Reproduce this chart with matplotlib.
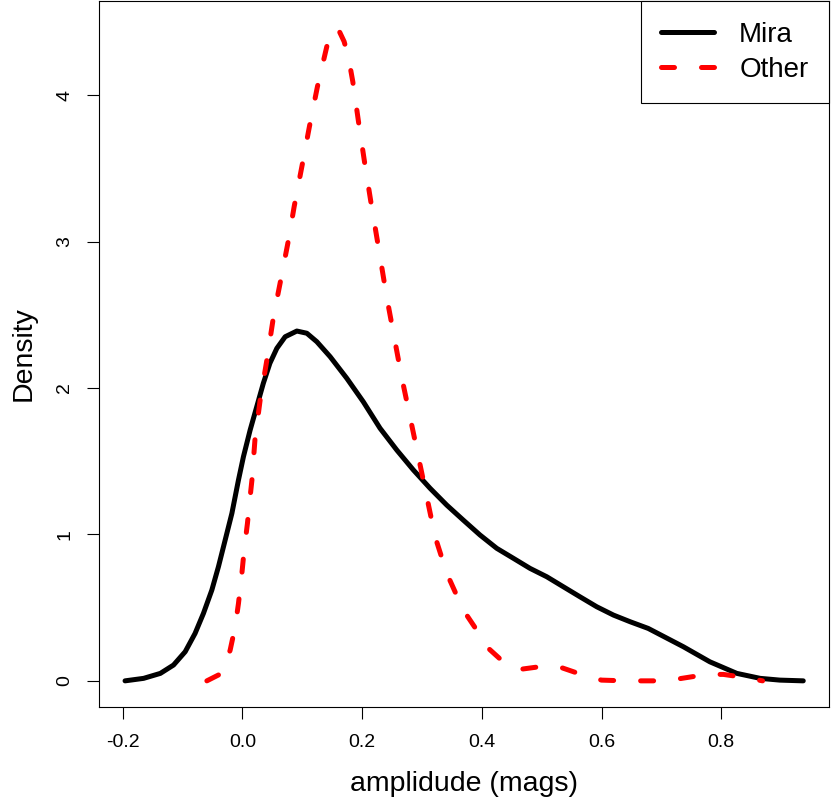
import matplotlib
matplotlib.use("Agg")
import matplotlib.pyplot as plt

plt.rcParams["font.family"] = ["Liberation Sans", "DejaVu Sans"]
plt.rcParams["axes.unicode_minus"] = False

# density curves
mira_x = [-0.196, -0.165, -0.137, -0.115, -0.0955, -0.079, -0.065, -0.051, -0.040,
          -0.0287, -0.0175, -0.0065, 0.0018, 0.013, 0.024, 0.035, 0.046, 0.0576,
          0.0715, 0.091, 0.1077, 0.1244, 0.1466, 0.1745, 0.202, 0.230, 0.258,
          0.2857, 0.3136, 0.3415, 0.369, 0.397, 0.425, 0.4527, 0.4806, 0.5085,
          0.536, 0.564, 0.592, 0.620, 0.6476, 0.678, 0.7367, 0.781, 0.826,
          0.865, 0.898, 0.937]
mira_y = [0.0, 0.017, 0.051, 0.108, 0.199, 0.324, 0.461, 0.620, 0.779,
          0.962, 1.144, 1.372, 1.531, 1.713, 1.872, 2.032, 2.169, 2.271,
          2.35, 2.389, 2.374, 2.316, 2.214, 2.066, 1.906, 1.725, 1.576,
          1.44, 1.315, 1.20, 1.098, 0.996, 0.905, 0.837, 0.768, 0.711,
          0.643, 0.574, 0.506, 0.449, 0.404, 0.358, 0.233, 0.13, 0.051,
          0.017, 0.005, 0.0]

other_x = [-0.0593, -0.040, -0.0316, -0.0204, -0.012, -0.0065, -0.0008, 0.003,
           0.0085, 0.013, 0.016, 0.021, 0.0297, 0.0409, 0.052, 0.063, 0.077,
           0.0865, 0.0994, 0.112, 0.1254, 0.141, 0.1495, 0.1595, 0.170, 0.177,
           0.1845, 0.194, 0.204, 0.2146, 0.230, 0.241, 0.2535, 0.266, 0.280,
           0.294, 0.308, 0.322, 0.3415, 0.369, 0.397, 0.411, 0.4417, 0.464,
           0.5085, 0.5336, 0.5725, 0.600, 0.639, 0.667, 0.709, 0.734, 0.776,
           0.8035, 0.8425, 0.869]
other_y = [0.0, 0.04, 0.074, 0.21, 0.37, 0.529, 0.734, 0.893,
           1.076, 1.258, 1.372, 1.645, 1.918, 2.19, 2.487, 2.715, 3.01,
           3.238, 3.512, 3.785, 4.058, 4.331, 4.434, 4.457, 4.366, 4.263,
           4.092, 3.819, 3.546, 3.273, 2.897, 2.624, 2.35, 2.077, 1.804,
           1.531, 1.258, 0.984, 0.734, 0.484, 0.313, 0.222, 0.108, 0.0785,
           0.103, 0.0895, 0.035, 0.005, 0.0, 0.0, 0.0, 0.017, 0.044,
           0.044, 0.021, 0.0]

x_ticks = [-0.2, 0.0, 0.2, 0.4, 0.6, 0.8]
x_labels = ["-0.2", "0.0", "0.2", "0.4", "0.6", "0.8"]
y_ticks = [0, 1, 2, 3, 4]
y_labels = ["0", "1", "2", "3", "4"]

fig = plt.figure(figsize=(8.31, 8.07), dpi=100)
ax = fig.add_axes([99 / 831, 1 - 707 / 807, 730 / 831, 706 / 807])

lw = 3.6
ax.plot(mira_x, mira_y, color="black", lw=lw, solid_capstyle="round",
        solid_joinstyle="round", label="Mira")
red, = ax.plot(other_x, other_y, color="red", lw=lw, dash_capstyle="round",
               dash_joinstyle="round", label="Other")
red.set_dashes((2.6, 5.4))

ax.set_xlim(-0.2395, 0.980)
ax.set_ylim(-0.1786, 4.643)

ax.set_xticks(x_ticks)
ax.set_xticklabels(x_labels, fontsize=14)
ax.set_yticks(y_ticks)
ax.set_yticklabels(y_labels, fontsize=14, rotation=90, va="center")
ax.tick_params(direction="out", length=8.6, width=0.8, color="black")
ax.tick_params(axis="x", pad=11)
ax.tick_params(axis="y", pad=10)
for sp in ax.spines.values():
    sp.set_linewidth(0.8)
    sp.set_color("black")

ax.set_xlabel("amplidude (mags)", fontsize=20.5, labelpad=14)
ax.set_ylabel("Density", fontsize=20.5, labelpad=14)

leg = ax.legend(loc="upper right", bbox_to_anchor=(1, 1), borderaxespad=0,
                fontsize=20, fancybox=False, framealpha=1, edgecolor="black",
                handlelength=1.9, handletextpad=0.9, borderpad=0.74,
                labelspacing=0.33)
leg.get_frame().set_linewidth(0.8)

plt.savefig("out.png", dpi=100)
plt.close()
